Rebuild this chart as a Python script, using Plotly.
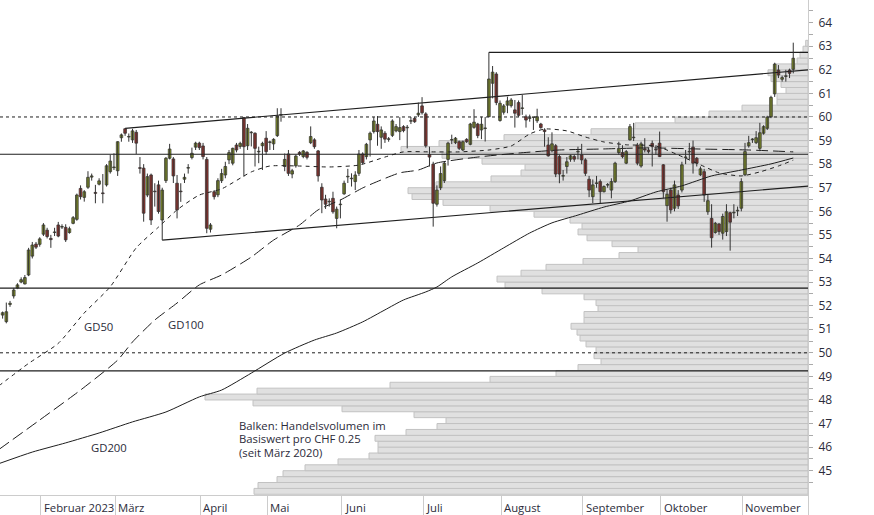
import plotly.graph_objects as go

# ---------------- candle data (trading-day index 0 = 18 Jan 2023) ----------------
opens = [
51.60, 51.32, 52.05, 52.41, 52.75, 53.00, 52.92, 53.30, 54.10, 54.61,
54.60, 55.03, 55.20, 54.85, 55.10, 55.42, 55.33, 55.32, 55.10, 55.49,
55.66, 56.97, 56.59, 57.02, 57.45, 56.80, 57.15, 56.78, 57.12, 57.68,
57.85, 57.72, 59.12, 59.50, 59.15, 59.03, 59.35, 57.85, 57.83, 56.69,
57.54, 56.85, 57.12, 55.63, 57.30, 58.25, 58.22, 57.19, 56.85, 57.36,
57.83, 58.28, 58.72, 58.89, 58.77, 58.20, 55.24, 56.83, 56.70, 57.30,
57.54, 58.18, 58.04, 58.81, 58.75, 59.97, 58.78, 59.33, 59.31, 58.52,
58.78, 59.10, 58.92, 58.86, 59.21, 60.08, 57.90, 58.43, 57.58, 57.93,
58.50, 58.32, 58.50, 58.91, 59.03, 58.56, 57.02, 56.52, 56.40, 56.55,
55.70, 56.28, 56.74, 57.46, 57.38, 57.26, 57.61, 58.43, 58.32, 59.03,
59.38, 59.69, 59.14, 59.31, 59.05, 59.22, 59.41, 59.38, 59.59, 59.54,
59.82, 59.94, 60.09, 60.47, 60.13, 58.40, 58.00, 56.30, 57.00, 57.30,
58.20, 59.02, 58.91, 58.95, 58.60, 59.05, 58.84, 59.56, 59.70, 59.45,
59.51, 60.01, 61.43, 61.82, 59.85, 60.20, 60.50, 60.48, 60.30, 60.61,
60.36, 60.01, 59.94, 59.98, 59.84, 59.70, 59.45, 58.81, 58.57, 58.78,
58.32, 57.49, 57.90, 58.21, 58.32, 58.52, 58.39, 58.18, 57.36, 56.62,
57.18, 57.26, 56.83, 57.11, 56.90, 57.26, 58.49, 58.49, 58.04, 59.03,
59.12, 58.81, 57.92, 58.65, 58.60, 58.88, 58.62, 58.89, 57.97, 56.24,
56.90, 56.13, 56.69, 56.90, 58.28, 58.52, 58.72, 58.25, 57.55, 57.68,
55.98, 55.70, 55.10, 55.46, 55.07, 55.14, 55.94, 55.93, 56.02, 56.13,
57.55, 58.78, 59.04, 58.91, 58.67, 59.31, 59.52, 60.01, 60.98, 61.99,
61.60, 61.72, 61.99, 62.02]

highs = [
51.75, 52.13, 52.20, 52.75, 52.95, 53.20, 53.30, 54.45, 54.70, 54.70,
54.90, 55.50, 55.30, 55.00, 55.30, 55.55, 55.45, 55.45, 55.35, 55.80,
56.75, 57.10, 56.90, 57.70, 57.60, 57.12, 57.40, 57.58, 58.00, 58.39,
58.46, 58.97, 59.30, 59.52, 59.30, 59.50, 59.45, 58.30, 58.00, 57.60,
57.60, 57.19, 57.30, 57.00, 58.30, 58.86, 58.30, 57.54, 57.19, 57.60,
58.00, 58.70, 58.95, 58.95, 58.90, 58.30, 55.50, 56.90, 57.40, 57.80,
58.10, 58.60, 58.70, 58.90, 58.95, 60.00, 59.70, 59.40, 59.35, 58.74,
58.95, 59.40, 59.00, 59.10, 60.37, 60.37, 58.45, 58.60, 57.80, 58.40,
58.55, 58.60, 58.55, 59.60, 59.10, 58.60, 57.19, 56.70, 56.55, 56.83,
56.20, 56.50, 57.30, 57.80, 57.61, 57.70, 58.60, 58.50, 58.90, 59.38,
60.00, 60.04, 59.60, 59.40, 59.15, 59.90, 59.70, 59.99, 59.65, 59.66,
60.00, 60.00, 60.61, 60.84, 60.20, 58.74, 58.10, 57.10, 57.90, 58.10,
58.95, 59.25, 59.15, 59.00, 59.00, 59.10, 59.75, 60.33, 59.75, 60.01,
60.00, 62.74, 62.16, 61.90, 60.70, 60.55, 60.86, 60.80, 60.72, 60.70,
60.93, 60.10, 60.10, 60.00, 60.35, 59.75, 59.52, 59.14, 59.35, 58.85,
58.40, 57.75, 58.30, 58.40, 58.40, 58.74, 58.86, 58.25, 57.50, 57.35,
57.50, 57.35, 57.10, 57.20, 57.40, 58.10, 58.95, 58.80, 58.60, 59.70,
59.75, 58.90, 58.95, 59.10, 58.70, 59.00, 58.80, 59.38, 58.00, 56.90,
57.00, 57.30, 56.90, 58.10, 58.60, 58.90, 59.00, 58.30, 57.90, 57.80,
56.70, 56.30, 55.55, 55.50, 55.90, 56.30, 55.98, 56.30, 56.20, 57.40,
58.90, 59.20, 59.10, 59.40, 59.75, 59.65, 60.05, 60.90, 62.30, 62.20,
61.75, 62.00, 62.05, 63.15]

lows = [
51.45, 51.25, 51.95, 52.30, 52.70, 52.95, 52.90, 53.25, 54.00, 54.40,
54.50, 54.95, 54.85, 54.45, 54.95, 54.90, 55.25, 54.70, 55.05, 55.45,
55.60, 56.50, 56.41, 56.95, 57.30, 56.34, 57.10, 56.34, 57.05, 57.60,
57.75, 57.50, 58.95, 59.20, 58.95, 58.90, 58.43, 57.60, 55.56, 56.60,
55.42, 56.20, 55.90, 54.78, 57.20, 58.20, 57.20, 55.70, 56.40, 57.20,
57.60, 58.20, 58.60, 58.60, 58.20, 55.07, 55.10, 56.50, 56.60, 57.20,
57.40, 58.00, 57.95, 58.50, 58.65, 57.47, 58.60, 58.75, 57.90, 58.04,
57.75, 58.40, 58.60, 58.60, 59.15, 59.80, 57.70, 57.50, 57.40, 57.85,
58.35, 58.25, 58.20, 58.85, 58.65, 57.26, 55.92, 56.10, 56.20, 55.90,
55.28, 55.70, 56.70, 57.20, 57.05, 56.90, 57.50, 58.00, 58.20, 58.32,
59.30, 58.78, 58.65, 58.90, 58.95, 59.15, 59.35, 59.02, 59.35, 58.67,
59.70, 59.75, 60.00, 60.10, 58.70, 57.90, 55.35, 56.20, 56.90, 57.20,
57.94, 58.85, 58.85, 58.60, 58.55, 58.90, 58.80, 59.50, 59.10, 59.06,
58.96, 60.00, 60.79, 60.50, 59.80, 60.10, 60.16, 60.40, 59.55, 60.00,
60.09, 59.55, 59.80, 59.45, 59.75, 59.50, 58.74, 58.32, 58.50, 57.45,
57.19, 57.30, 57.60, 58.10, 58.10, 58.20, 58.00, 57.50, 56.60, 56.35,
57.00, 56.35, 56.80, 57.00, 56.55, 57.20, 58.40, 58.25, 58.00, 59.00,
58.98, 57.95, 57.85, 58.50, 58.45, 57.90, 58.40, 58.30, 56.55, 55.56,
55.90, 56.00, 56.10, 56.80, 58.00, 58.20, 57.60, 57.90, 57.50, 56.40,
55.85, 54.46, 55.05, 55.00, 54.80, 54.95, 54.33, 55.70, 55.80, 56.00,
57.50, 58.70, 58.90, 58.85, 58.55, 59.25, 59.45, 59.95, 60.85, 61.65,
61.50, 61.50, 61.65, 61.85]

closes = [
51.70, 51.74, 52.10, 52.66, 52.88, 53.10, 53.19, 54.36, 54.57, 54.48,
54.83, 55.42, 54.93, 54.80, 55.12, 54.95, 55.35, 54.79, 55.26, 55.73,
56.69, 56.62, 56.83, 57.44, 57.50, 56.76, 57.29, 56.75, 57.93, 58.13,
57.88, 58.95, 59.24, 59.31, 59.17, 59.41, 58.89, 57.82, 55.92, 57.47,
55.63, 56.83, 55.99, 56.90, 58.25, 58.64, 57.50, 56.06, 56.83, 57.44,
57.85, 58.46, 58.89, 58.70, 58.32, 55.28, 55.42, 56.62, 57.30, 57.60,
57.90, 58.49, 58.67, 58.60, 58.88, 58.74, 59.52, 59.35, 58.67, 58.53,
58.88, 58.53, 58.93, 59.05, 60.04, 60.09, 58.20, 57.61, 57.72, 58.34,
58.43, 58.56, 58.29, 59.17, 58.74, 57.50, 56.48, 56.30, 56.41, 55.98,
56.09, 56.30, 57.19, 57.47, 57.40, 57.54, 58.43, 58.06, 58.84, 59.31,
59.83, 59.38, 59.45, 59.06, 59.06, 59.83, 59.59, 59.55, 59.42, 59.55,
59.83, 59.80, 60.16, 60.18, 58.78, 58.30, 56.34, 56.90, 57.60, 58.04,
58.89, 59.03, 59.10, 58.67, 58.95, 58.95, 59.70, 59.78, 59.21, 59.69,
59.52, 61.61, 61.90, 60.61, 60.58, 60.47, 60.68, 60.72, 60.16, 60.07,
60.37, 59.87, 59.95, 59.99, 60.01, 59.55, 59.38, 58.35, 58.86, 57.58,
57.58, 57.50, 58.10, 58.35, 58.21, 58.53, 58.18, 57.61, 56.90, 57.12,
57.19, 56.83, 57.05, 57.12, 57.26, 58.04, 58.67, 58.32, 58.53, 59.59,
59.13, 58.04, 58.86, 58.60, 58.53, 58.74, 58.60, 58.32, 56.83, 56.72,
56.06, 57.12, 56.23, 57.97, 58.30, 58.53, 58.04, 58.04, 57.80, 56.69,
56.45, 54.88, 55.49, 55.14, 55.78, 55.98, 55.54, 55.94, 56.03, 57.26,
58.53, 58.91, 59.05, 59.12, 59.33, 59.59, 59.99, 60.83, 62.24, 61.78,
61.67, 61.73, 61.85, 62.49]

# month labels and index of first trading day of each month
month_names = ["Februar 2023", "März", "April", "Mai", "Juni", "Juli",
               "August", "September", "Oktober", "November"]
month_first_idx = [10, 30, 53, 71, 91, 113, 134, 156, 177, 199]

# moving averages (sampled values)
gd50_idx = [-1, 7, 15, 22, 29, 36, 42, 47, 53, 59, 67, 72, 80, 88, 96, 103, 108, 115, 123, 131,
            137, 142, 146, 152, 157, 162, 168, 176, 182, 188, 193, 199, 204, 209, 213]
gd50_val = [48.6, 49.55, 50.4, 51.69, 52.8, 54.45, 55.33, 56.06, 56.69, 56.95, 57.67, 57.92, 57.92,
            57.88, 57.96, 58.3, 58.52, 58.52, 58.52, 58.6, 58.77, 59.28, 59.49, 59.41, 59.15, 58.94,
            58.82, 58.77, 58.39, 57.97, 57.63, 57.5, 57.67, 57.92, 58.17]
gd100_idx = [-1, 10, 21, 31, 35, 41, 47, 53, 59, 67, 73, 80, 85, 91, 97, 100, 107, 112, 117, 128,
             139, 150, 161, 174, 188, 201, 213]
gd100_val = [45.9, 47.15, 48.42, 49.69, 50.46, 51.39, 52.11, 52.88, 53.3, 54.06, 54.78, 55.42, 56.06,
             56.48, 56.99, 57.2, 57.63, 57.75, 58.05, 58.3, 58.47, 58.6, 58.64, 58.69, 58.64, 58.6, 58.52]
gd200_idx = [-1, 8, 17, 26, 35, 44, 53, 59, 67, 76, 84, 90, 97, 103, 108, 114, 117, 121, 128, 135,
             142, 148, 155, 162, 169, 176, 183, 191, 199, 207, 213]
gd200_val = [45.3, 45.79, 46.18, 46.6, 47.07, 47.49, 48.13, 48.42, 49.14, 49.99, 50.54, 50.84, 51.31,
             51.82, 52.24, 52.58, 52.79, 53.22, 53.81, 54.45, 55.08, 55.51, 55.84, 56.18, 56.44, 56.82,
             57.08, 57.5, 57.75, 58.01, 58.26]

# trend lines (start index/value, end index/value)
upper_trend_x = [33, 217]
upper_trend_y = [59.52, 62.0]
lower_trend_x = [43, 217]
lower_trend_y = [54.78, 57.07]
resist_x = [131, 217]
resist_y = [62.74, 62.74]

# horizontal levels
levels_solid = [58.42, 52.74, 49.23]
levels_dotted = [60.0, 50.0]

# volume profile per CHF 0.25 (lower bin edge, relative volume)
vp_bin_low = [44.0, 44.25, 44.5, 44.75, 45.0, 45.25, 45.5, 45.75, 46.0, 46.25,
              46.5, 46.75, 47.0, 47.25, 47.5, 47.75, 48.0, 48.25, 48.5, 48.75,
              49.0, 49.25, 49.5, 49.75, 50.0, 50.25, 50.5, 50.75, 51.0, 51.25,
              51.5, 51.75, 52.0, 52.25, 52.5, 52.75, 53.0, 53.25, 53.5, 53.75,
              54.0, 54.25, 54.5, 54.75, 55.0, 55.25, 55.5, 55.75, 56.0, 56.25,
              56.5, 56.75, 57.0, 57.25, 57.5, 57.75, 58.0, 58.25, 58.5, 58.75,
              59.0, 59.25, 59.5, 59.75, 60.0, 60.25, 60.5, 60.75, 61.0, 61.25,
              61.5, 61.75, 62.0, 62.25, 62.5, 62.75, 63.0]
vp_volume = [554, 550, 531, 525, 503, 470, 439, 430, 430, 433,
             402, 371, 362, 394, 466, 555, 603, 551, 418, 318,
             252, 230, 207, 214, 212, 222, 228, 231, 237, 224,
             224, 210, 212, 224, 266, 303, 311, 287, 262, 225,
             189, 170, 196, 221, 230, 226, 238, 274, 318, 365,
             396, 400, 372, 317, 287, 283, 326, 366, 407, 369,
             304, 217, 173, 133, 99, 66, 31, 31, 22, 27,
             37, 40, 34, 11, 8, 5, 2.3]

# ---------------- figure ----------------
X_MIN, X_MAX = -0.7, 216.97
Y_MIN, Y_MAX = 43.97, 64.96
VP_FULL = 808
FONT = "Open Sans"
FS = 11.3
TXT = "#2b2b3a"
LINE = "#1e1e1e"
GREEN = "#a4b823"
RED = "#c1332a"
EDGE = "#333333"

n = min(len(opens), len(highs), len(lows), len(closes))
idx = list(range(n))

fig = go.Figure()

# volume profile (drawn first, on hidden reversed axis)
fig.add_trace(go.Bar(
    y=[b + 0.125 for b in vp_bin_low], x=vp_volume, orientation="h", width=0.25,
    marker=dict(color="#e0e0e0", line=dict(color="#c2c2c2", width=1)),
    xaxis="x", yaxis="y", hoverinfo="skip"))

# horizontal levels
for lv in levels_solid:
    fig.add_trace(go.Scatter(x=[X_MIN, X_MAX], y=[lv, lv], mode="lines",
                             line=dict(color=LINE, width=1.2), xaxis="x2", yaxis="y", hoverinfo="skip"))
for lv in levels_dotted:
    fig.add_trace(go.Scatter(x=[X_MIN, X_MAX], y=[lv, lv], mode="lines",
                             line=dict(color=LINE, width=1, dash="3px,3px"), xaxis="x2", yaxis="y", hoverinfo="skip"))

# moving averages
fig.add_trace(go.Scatter(x=gd200_idx, y=gd200_val, mode="lines", line=dict(color=LINE, width=1, shape="spline", smoothing=0.6),
                         xaxis="x2", yaxis="y", hoverinfo="skip"))
fig.add_trace(go.Scatter(x=gd100_idx, y=gd100_val, mode="lines", line=dict(color=LINE, width=1, dash="12px,5px", shape="spline", smoothing=0.6),
                         xaxis="x2", yaxis="y", hoverinfo="skip"))
fig.add_trace(go.Scatter(x=gd50_idx, y=gd50_val, mode="lines", line=dict(color=LINE, width=1, dash="4px,4px", shape="spline", smoothing=0.6),
                         xaxis="x2", yaxis="y", hoverinfo="skip"))

# trend lines
for tx, ty in [(upper_trend_x, upper_trend_y), (lower_trend_x, lower_trend_y), (resist_x, resist_y)]:
    fig.add_trace(go.Scatter(x=tx, y=ty, mode="lines", line=dict(color=LINE, width=1.2),
                             xaxis="x2", yaxis="y", hoverinfo="skip"))

# wicks
wx, wy = [], []
for i in idx:
    wx += [i, i, None]
    wy += [lows[i], highs[i], None]
fig.add_trace(go.Scatter(x=wx, y=wy, mode="lines", line=dict(color=EDGE, width=1),
                         xaxis="x2", yaxis="y", hoverinfo="skip"))

# bodies
for up, col in [(True, GREEN), (False, RED)]:
    bx, bb, bh = [], [], []
    for i in idx:
        if (closes[i] >= opens[i]) == up:
            bx.append(i)
            bb.append(min(opens[i], closes[i]))
            bh.append(max(abs(closes[i] - opens[i]), 0.025))
    fig.add_trace(go.Bar(x=bx, y=bh, base=bb, width=0.72,
                         marker=dict(color=col, line=dict(color=EDGE, width=0.8)),
                         xaxis="x2", yaxis="y", hoverinfo="skip"))

annotations = []
# month labels to the right of the month ticks
for name, mi in zip(month_names, month_first_idx):
    annotations.append(dict(text=name, x=mi + 0.3, y=-0.0245, xref="x2", yref="paper",
                            xanchor="left", yanchor="middle", xshift=1, showarrow=False,
                            font=dict(family=FONT, size=FS, color=TXT)))
# moving-average labels
for txt, ax, ay in [("GD50", 25.7, 51.1), ("GD100", 49.4, 51.22), ("GD200", 28.7, 46.0)]:
    annotations.append(dict(text=txt, x=ax, y=ay, xref="x2", yref="y", showarrow=False,
                            xanchor="center", yanchor="middle",
                            font=dict(family=FONT, size=FS, color=TXT)))
# note
for k, line in enumerate(["Balken: Handelsvolumen im", "Basiswert pro CHF 0.25", "(seit März 2020)"]):
    annotations.append(dict(text=line, x=237 / 808, y=(495 - 425 - k * 13.8) / 495, xref="paper", yref="paper",
                            xanchor="left", yanchor="middle", showarrow=False,
                            font=dict(family=FONT, size=FS, color=TXT)))

fig.update_layout(
    width=874, height=515,
    margin=dict(l=0, r=66, t=0, b=20, pad=0),
    paper_bgcolor="white", plot_bgcolor="white",
    showlegend=False, hovermode=False, barmode="overlay",
    font=dict(family=FONT, size=FS, color=TXT),
    xaxis=dict(range=[VP_FULL, 0], visible=False, fixedrange=True, domain=[0, 1]),
    xaxis2=dict(overlaying="x", anchor="y", side="bottom", range=[X_MIN, X_MAX],
                tickmode="array", tickvals=[m + 0.3 for m in month_first_idx] + [X_MAX],
                ticks="outside", ticklen=20, tickcolor="#cccccc", tickwidth=1,
                showticklabels=False, showline=True, linecolor="#cccccc", linewidth=1,
                showgrid=False, zeroline=False, fixedrange=True),
    yaxis=dict(side="right", range=[Y_MIN, Y_MAX], tickmode="array",
               tickvals=list(range(45, 65)), ticktext=[str(v) for v in range(45, 65)],
               ticks="outside", ticklen=4, tickcolor="#aaaaaa", tickwidth=1,
               minor=dict(tickvals=[v + 0.5 for v in range(44, 65)], ticks="outside", ticklen=4,
                          tickcolor="#aaaaaa", tickwidth=1),
               showline=True, linecolor="#cccccc", linewidth=1, showgrid=False, zeroline=False,
               tickfont=dict(family=FONT, size=12, color=TXT), ticklabelstandoff=3, fixedrange=True),
    annotations=annotations,
)

fig.write_html("out.html", config={"displayModeBar": False, "staticPlot": True},
               post_script="document.body.style.margin='0';document.body.style.padding='0';")
